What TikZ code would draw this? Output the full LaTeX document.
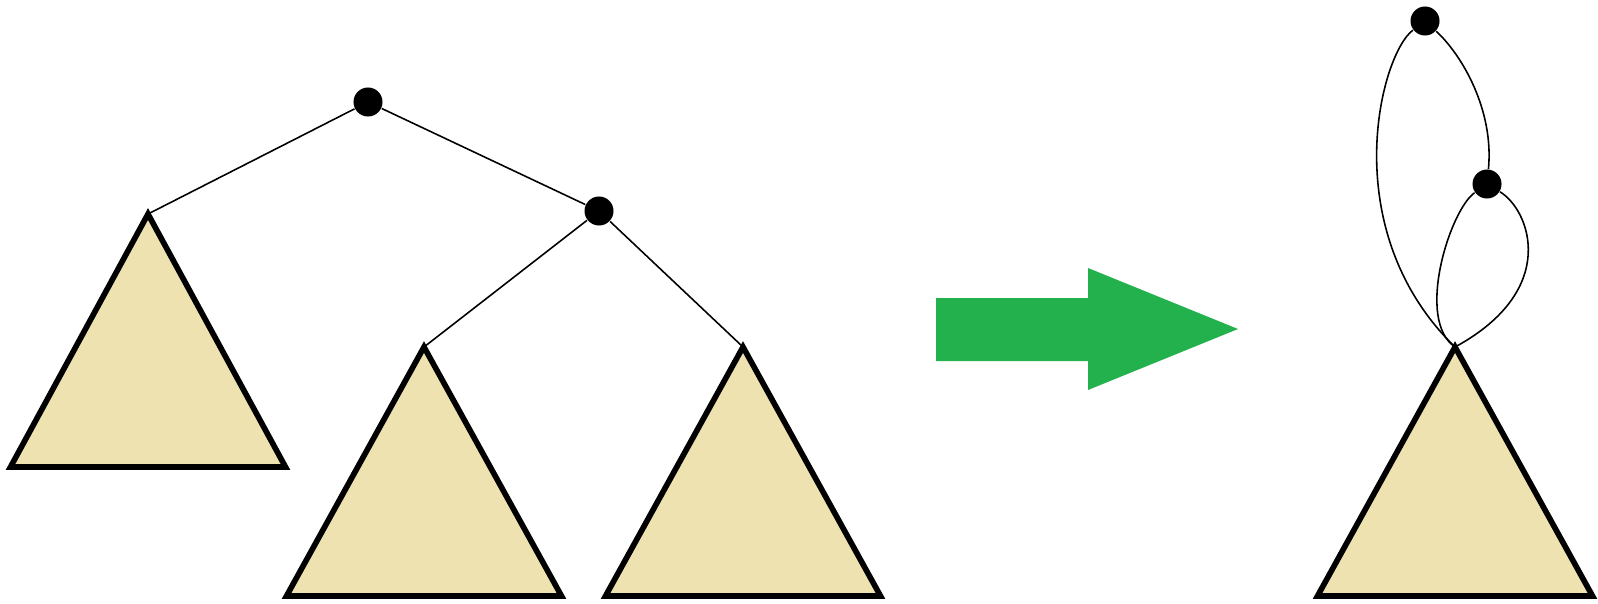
\documentclass[tikz,border=0pt]{standalone}
\usepackage{tikz}

\definecolor{treefill}{RGB}{238,226,177}
\definecolor{arrowgreen}{RGB}{34,177,76}

\begin{document}
\begin{tikzpicture}[
  x=0.01cm, y=-0.01cm,
  dot/.style={circle, fill=black, inner sep=0pt, minimum size=2.9mm},
  edge/.style={draw=black, line width=0.45pt},
  subtree/.style={draw=black, fill=treefill, line width=1.6pt, line join=miter},
  bigarrow/.style={fill=arrowgreen, draw=none}
]
  \useasboundingbox (0,0) rectangle (1598,603);

  % arbol de la izquierda
  \coordinate (tA) at (148,214);
  \coordinate (tB) at (424,347);
  \coordinate (tC) at (743,347);
  \draw[subtree] (tA) -- ++(137.5,253) -- ++(-275,0) -- cycle;
  \draw[subtree] (tB) -- ++(137.5,249) -- ++(-275,0) -- cycle;
  \draw[subtree] (tC) -- ++(137.5,249) -- ++(-275,0) -- cycle;

  \node[dot] (root) at (368,102) {};
  \node[dot] (mid) at (599,211) {};

  \draw[edge] (root) -- (tA); \draw[edge] (root) -- (mid);
  \draw[edge] (mid) -- (tB); \draw[edge] (mid) -- (tC);

  % flecha
  \fill[bigarrow] (936,298) -- (1088,298) -- (1088,268) -- (1238,329)
    -- (1088,390) -- (1088,361) -- (936,361) -- cycle;

  % arbol de la derecha
  \coordinate (tD) at (1455,347);
  \draw[subtree] (tD) -- ++(137.5,249) -- ++(-275,0) -- cycle;

  \node[dot] (top) at (1425,21) {};
  \node[dot] (sub) at (1487,184) {};

  \draw[edge] (top) .. controls (1380,55) and (1335,230) .. (tD);
  \draw[edge] (top) .. controls (1462,55) and (1494,110) .. (sub);
  \draw[edge] (sub) .. controls (1450,210) and (1415,320) .. (tD);
  \draw[edge] (sub) .. controls (1530,210) and (1560,290) .. (tD);
\end{tikzpicture}
\end{document}
